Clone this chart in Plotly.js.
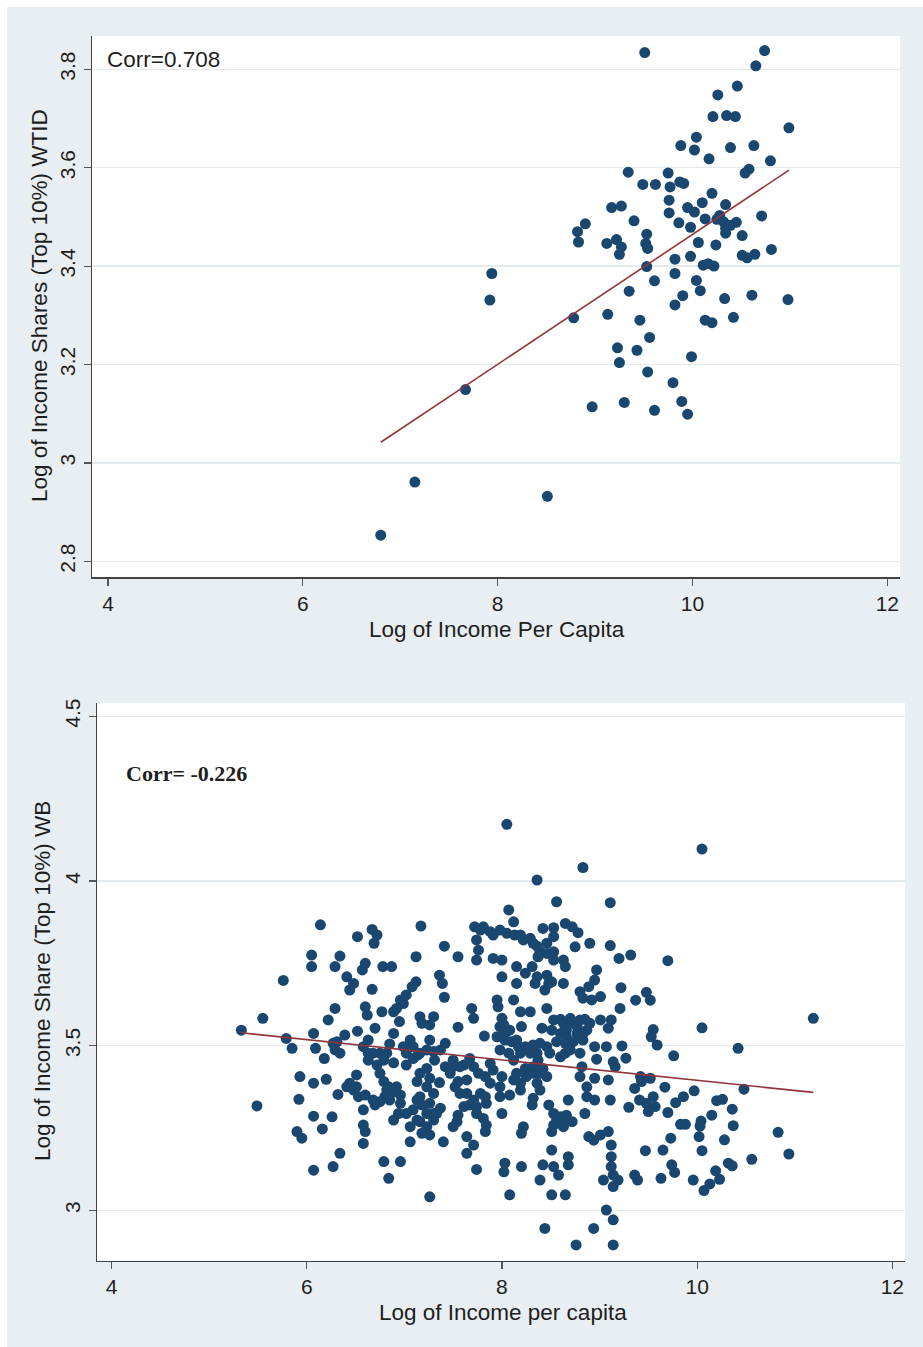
<!DOCTYPE html>
<html>
<head>
<meta charset="utf-8">
<script src="https://cdn.plot.ly/plotly-3.0.1.min.js"></script>
<style>
html,body{margin:0;padding:0;background:#ffffff;}
#chart{width:923px;height:1347px;}
</style>
</head>
<body>
<div id="chart"></div>
<script>
// ---------- Top panel: WTID ----------
const topX = [9.51,10.74,10.65,10.46,10.26,10.21,10.35,10.44,10.99,10.04,9.88,10.02,10.39,10.63,10.17,10.80,10.58,10.54,9.34,9.75,
9.49,9.62,9.77,9.87,10.20,9.76,9.17,9.27,10.10,10.34,9.95,10.02,9.76,10.71,10.13,10.25,10.32,9.40,9.86,10.45,
9.98,10.34,8.90,8.82,8.83,10.34,10.51,9.12,9.22,9.27,9.25,9.53,9.52,9.54,10.06,10.24,10.81,10.51,10.64,10.56,
9.82,9.98,10.11,10.22,9.53,9.82,9.61,10.04,9.35,10.08,7.94,7.92,9.90,10.33,10.61,10.98,9.82,8.78,9.13,9.46,
10.13,10.20,10.42,9.56,9.23,9.43,9.25,9.99,9.54,7.67,9.80,8.97,9.30,9.61,9.89,9.95,9.91,10.28,10.39,10.16,
7.15,8.51,6.80];
const topY = [3.834,3.838,3.807,3.766,3.748,3.704,3.706,3.704,3.681,3.662,3.645,3.636,3.641,3.645,3.618,3.614,3.597,3.589,3.591,3.589,
3.566,3.566,3.561,3.571,3.548,3.534,3.519,3.522,3.529,3.525,3.519,3.510,3.508,3.502,3.496,3.495,3.490,3.492,3.488,3.489,
3.479,3.477,3.486,3.470,3.449,3.467,3.462,3.446,3.454,3.439,3.424,3.465,3.446,3.436,3.448,3.443,3.434,3.422,3.424,3.417,
3.414,3.420,3.402,3.400,3.399,3.385,3.370,3.371,3.349,3.350,3.385,3.331,3.340,3.334,3.341,3.332,3.321,3.295,3.302,3.290,
3.290,3.285,3.296,3.255,3.234,3.229,3.204,3.216,3.185,3.149,3.163,3.114,3.123,3.107,3.125,3.099,3.568,3.503,3.483,3.405,
2.961,2.932,2.853];
const topFitX = [6.80, 10.99];
const topFitY = [3.042, 3.595];
const topXTicks = [4, 6, 8, 10, 12];
const topYTicks = [2.8, 3, 3.2, 3.4, 3.6, 3.8];
const topYTickText = ["2.8", "3", "3.2", "3.4", "3.6", "3.8"];

// ---------- Bottom panel: WB ----------
const botX = [8.05,8.83,8.36,8.56,9.11,8.07,8.12,6.14,7.17,7.72,7.81,6.67,6.72,6.69,6.52,8.42,8.53,8.65,8.72,8.78,
7.98,8.05,8.13,8.22,8.29,8.36,8.46,8.53,7.74,7.76,7.74,7.91,8.00,8.90,8.75,9.11,7.41,6.05,6.05,6.34,
6.29,7.12,7.55,8.37,8.53,8.63,8.65,6.60,6.57,6.78,6.87,8.15,8.31,8.24,8.36,8.46,8.51,8.97,8.95,8.89,
5.76,6.41,6.48,6.44,7.36,7.39,7.41,7.12,7.08,7.02,6.96,6.99,6.92,6.89,8.00,8.15,8.34,8.44,8.48,8.63,
6.67,8.80,8.83,8.92,9.01,7.95,7.96,8.12,6.29,6.22,6.60,6.62,6.77,7.69,7.71,8.19,8.29,8.46,8.53,7.16,
7.18,7.30,7.26,6.95,8.00,8.02,8.60,8.70,8.80,8.85,9.01,9.12,5.55,8.20,7.55,6.70,8.41,8.51,8.66,8.77,
8.87,5.33,6.07,6.52,6.39,6.89,7.82,7.95,8.03,8.10,8.17,8.24,8.32,8.39,8.46,8.56,8.65,8.73,8.83,8.95,
9.07,5.79,5.85,7.06,6.09,6.29,6.31,6.58,6.85,7.42,7.37,7.98,8.49,8.65,6.18,6.68,6.63,6.75,7.02,7.09,
7.14,7.23,7.30,7.67,8.12,8.37,8.97,6.89,7.02,6.72,7.42,7.47,7.23,7.16,7.61,7.71,7.76,7.88,7.91,8.24,
8.25,8.42,8.46,8.82,6.75,5.93,6.07,6.20,6.51,6.44,6.48,6.53,6.60,6.79,6.84,6.89,6.96,7.13,7.26,7.23,
7.36,7.55,7.52,7.64,7.83,7.88,8.00,7.98,8.12,8.19,8.36,8.39,8.80,8.87,8.95,9.09,6.32,5.92,6.80,6.75,
6.70,7.30,7.64,7.71,7.67,7.61,7.83,7.98,8.08,8.19,8.32,8.31,8.48,8.68,8.87,8.95,9.11,5.49,7.13,7.18,
7.09,7.02,7.37,7.30,6.58,6.94,7.55,7.74,7.81,7.84,8.00,8.53,8.60,8.66,8.72,8.63,8.53,8.85,6.07,6.26,
6.89,6.58,6.60,7.16,7.23,7.30,7.06,7.54,7.50,7.83,8.22,8.20,6.16,5.90,5.95,7.18,7.26,8.89,8.94,9.01,
9.09,8.51,7.06,7.40,7.64,7.71,7.64,6.58,9.12,8.51,6.34,6.79,6.96,6.27,6.07,7.74,8.03,8.02,8.20,8.42,
8.53,8.58,8.68,8.68,9.12,9.12,6.84,8.39,9.04,7.26,8.08,8.51,8.65,
10.05,9.70,9.32,9.22,9.37,9.48,9.52,9.21,11.19,10.05,9.55,9.53,9.20,9.09,
9.23,9.59,10.42,9.76,9.27,9.42,9.52,9.36,9.67,9.97,10.48,9.41,9.48,9.57,9.50,9.30,9.78,9.70,10.20,10.26,
10.15,10.36,9.83,9.88,10.04,10.03,10.37,10.83,9.73,10.02,10.28,9.47,9.65,10.05,10.56,10.94,9.74,9.77,10.32,10.36,
10.19,10.23,9.36,9.39,9.63,9.96,10.13,10.07,9.14,9.16,9.14,9.19,9.14,
9.07,9.14,8.44,8.94,8.76,9.14,
7.78,7.88,7.91,8.19,8.32,8.39,8.46,8.53,8.63,8.73,8.66,8.77,8.83,8.60,8.70,8.80,8.60,8.90,8.03,8.08,
7.98,8.15,8.19,8.07,8.29,8.36,7.09,7.16,6.99,7.26,7.31,6.41,6.51,6.82,6.92,6.68,6.85,6.96,7.16,7.26,
7.33,7.23,7.13,7.57,7.74,7.78,7.84,8.56,8.66,8.32,8.32,8.39,8.15,6.63,6.79,6.82,6.63,6.34,6.27,7.50,
7.57,7.50,9.43,9.55,9.86];
const botY = [4.172,4.041,4.003,3.937,3.934,3.912,3.876,3.867,3.863,3.861,3.861,3.853,3.836,3.811,3.831,3.856,3.858,3.871,3.861,3.843,
3.851,3.841,3.836,3.821,3.826,3.802,3.811,3.831,3.821,3.790,3.760,3.765,3.760,3.811,3.800,3.804,3.802,3.775,3.740,3.772,
3.740,3.770,3.770,3.770,3.785,3.760,3.740,3.750,3.730,3.740,3.740,3.740,3.740,3.720,3.709,3.714,3.694,3.730,3.699,3.679,
3.698,3.709,3.689,3.669,3.714,3.689,3.647,3.694,3.679,3.654,3.639,3.628,3.613,3.603,3.709,3.689,3.689,3.669,3.689,3.689,
3.671,3.664,3.644,3.639,3.649,3.639,3.618,3.639,3.613,3.578,3.618,3.593,3.603,3.613,3.583,3.603,3.603,3.613,3.578,3.588,
3.568,3.588,3.563,3.573,3.583,3.563,3.580,3.583,3.578,3.580,3.578,3.578,3.583,3.558,3.556,3.553,3.553,3.547,3.547,3.537,
3.547,3.547,3.537,3.544,3.532,3.537,3.529,3.527,3.517,3.512,3.497,3.497,3.502,3.507,3.497,3.512,3.507,3.512,3.517,3.497,
3.497,3.522,3.492,3.517,3.492,3.487,3.512,3.497,3.505,3.507,3.487,3.487,3.477,3.477,3.461,3.477,3.456,3.477,3.477,3.461,
3.472,3.487,3.482,3.461,3.456,3.456,3.459,3.448,3.441,3.441,3.436,3.416,3.431,3.416,3.441,3.436,3.416,3.446,3.426,3.431,
3.406,3.431,3.406,3.436,3.416,3.406,3.386,3.398,3.411,3.386,3.365,3.345,3.350,3.391,3.375,3.360,3.350,3.391,3.401,3.375,
3.388,3.391,3.375,3.396,3.406,3.386,3.406,3.375,3.396,3.386,3.386,3.365,3.406,3.375,3.401,3.396,3.352,3.337,3.345,3.330,
3.320,3.355,3.355,3.335,3.320,3.315,3.345,3.345,3.350,3.365,3.340,3.320,3.320,3.335,3.345,3.335,3.335,3.317,3.335,3.320,
3.305,3.294,3.310,3.294,3.305,3.294,3.289,3.294,3.279,3.259,3.294,3.294,3.284,3.289,3.269,3.254,3.259,3.294,3.286,3.284,
3.274,3.259,3.239,3.269,3.254,3.274,3.254,3.269,3.254,3.239,3.254,3.234,3.247,3.239,3.219,3.234,3.229,3.224,3.213,3.229,
3.239,3.239,3.208,3.208,3.224,3.198,3.173,3.203,3.198,3.183,3.173,3.148,3.148,3.133,3.122,3.124,3.143,3.117,3.133,3.138,
3.133,3.107,3.163,3.138,3.163,3.133,3.097,3.092,3.092,3.041,3.047,3.047,3.047,
4.097,3.758,3.775,3.676,3.638,3.662,3.638,3.613,3.583,3.554,3.549,3.527,3.765,3.553,
3.499,3.502,3.492,3.469,3.462,3.406,3.401,3.370,3.374,3.363,3.368,3.335,3.325,3.315,3.300,3.313,3.327,3.297,3.333,3.337,
3.289,3.307,3.261,3.261,3.271,3.256,3.257,3.237,3.219,3.224,3.214,3.181,3.183,3.181,3.155,3.171,3.138,3.115,3.143,3.135,
3.120,3.094,3.107,3.092,3.097,3.092,3.080,3.060,3.451,3.436,3.107,3.092,3.072,
3.001,2.971,2.945,2.945,2.895,2.895,
3.851,3.846,3.836,3.836,3.811,3.785,3.780,3.760,3.568,3.568,3.527,3.558,3.537,3.537,3.487,3.477,3.466,3.568,3.537,3.547,
3.558,3.517,3.477,3.477,3.477,3.477,3.497,3.477,3.497,3.517,3.456,3.375,3.375,3.365,3.375,3.335,3.335,3.325,3.345,3.325,
3.294,3.294,3.274,3.355,3.315,3.355,3.325,3.274,3.269,3.416,3.436,3.416,3.416,3.517,3.456,3.477,3.477,3.477,3.507,3.456,
3.436,3.436,3.391,3.345,3.345];
const botFitX = [5.33, 11.19];
const botFitY = [3.539, 3.358];
const botXTicks = [4, 6, 8, 10, 12];
const botYTicks = [3, 3.5, 4, 4.5];
const botYTickText = ["3", "3.5", "4", "4.5"];

// ---------- styles ----------
const W = 923, H = 1347;
const navy = '#1a476f';
const maroon = '#90353b';
const bg = '#e8eef1';
const txt = '#1e1e1e';
const tickFont = {family: 'Liberation Sans, Arial, sans-serif', size: 21, color: txt};
const titleFont = {family: 'Liberation Sans, Arial, sans-serif', size: 22.5, color: txt};
const px = v => v / W;
const py = v => 1 - v / H;

const traces = [
  {x: topX, y: topY, type: 'scatter', mode: 'markers', xaxis: 'x', yaxis: 'y',
   marker: {color: navy, size: 11, line: {width: 0}}, hoverinfo: 'skip'},
  {x: topFitX, y: topFitY, type: 'scatter', mode: 'lines', xaxis: 'x', yaxis: 'y',
   line: {color: maroon, width: 1.6}, hoverinfo: 'skip'},
  {x: botX, y: botY, type: 'scatter', mode: 'markers', xaxis: 'x2', yaxis: 'y2',
   marker: {color: navy, size: 11, line: {width: 0}}, hoverinfo: 'skip'},
  {x: botFitX, y: botFitY, type: 'scatter', mode: 'lines', xaxis: 'x2', yaxis: 'y2',
   line: {color: maroon, width: 1.6}, hoverinfo: 'skip'}
];

const xCommon = {
  showgrid: false, zeroline: false, showline: true, linecolor: '#444', linewidth: 1.3,
  ticks: 'outside', ticklen: 7, tickwidth: 1.2, tickcolor: '#555',
  tickfont: tickFont, automargin: false, fixedrange: true
};
const yCommon = {
  showgrid: true, gridcolor: '#e3ebee', gridwidth: 1.5, zeroline: false,
  showline: true, linecolor: '#444', linewidth: 1.3,
  ticks: 'outside', ticklen: 7, tickwidth: 1.2, tickcolor: '#555',
  tickfont: tickFont, tickangle: -90, automargin: false, fixedrange: true
};

const layout = {
  width: W, height: H,
  margin: {l: 0, r: 0, t: 0, b: 0, pad: 0},
  paper_bgcolor: bg, plot_bgcolor: '#ffffff',
  showlegend: false,
  xaxis: Object.assign({}, xCommon, {domain: [px(92), px(900)], range: [3.836, 12.13],
    tickmode: 'array', tickvals: topXTicks, ticktext: topXTicks.map(String), anchor: 'y'}),
  yaxis: Object.assign({}, yCommon, {domain: [py(577.3), py(36)], range: [2.7675, 3.8677],
    tickmode: 'array', tickvals: topYTicks, ticktext: topYTickText, anchor: 'x'}),
  xaxis2: Object.assign({}, xCommon, {domain: [px(97), px(905)], range: [3.851, 12.13],
    tickmode: 'array', tickvals: botXTicks, ticktext: botXTicks.map(String), anchor: 'y2'}),
  yaxis2: Object.assign({}, yCommon, {domain: [py(1260.7), py(703)], range: [2.847, 4.5405],
    tickmode: 'array', tickvals: botYTicks, ticktext: botYTickText, anchor: 'x2'}),
  shapes: [
    {type: 'rect', xref: 'paper', yref: 'paper', x0: 0, x1: 1, y0: py(7), y1: 1,
     fillcolor: '#ffffff', line: {width: 0}, layer: 'below'},
    {type: 'rect', xref: 'paper', yref: 'paper', x0: 0, x1: px(7), y0: 0, y1: 1,
     fillcolor: '#ffffff', line: {width: 0}, layer: 'below'}
  ],
  annotations: [
    {text: 'Log of Income Shares (Top 10%) WTID', xref: 'paper', yref: 'paper',
     x: px(40), y: py(306), textangle: -90, showarrow: false, font: titleFont,
     xanchor: 'center', yanchor: 'middle'},
    {text: 'Log of Income Per Capita', xref: 'paper', yref: 'paper',
     x: px(497), y: py(629), showarrow: false, font: titleFont, xanchor: 'center', yanchor: 'middle'},
    {text: 'Corr=0.708', xref: 'paper', yref: 'paper',
     x: px(105), y: py(60), showarrow: false, font: titleFont, xanchor: 'left', yanchor: 'middle'},
    {text: 'Log of Income Share (Top 10%) WB', xref: 'paper', yref: 'paper',
     x: px(42), y: py(981), textangle: -90, showarrow: false, font: titleFont,
     xanchor: 'center', yanchor: 'middle'},
    {text: 'Log of Income per capita', xref: 'paper', yref: 'paper',
     x: px(503), y: py(1312), showarrow: false, font: titleFont, xanchor: 'center', yanchor: 'middle'},
    {text: '<b>Corr= -0.226</b>', xref: 'paper', yref: 'paper',
     x: px(124), y: py(773), showarrow: false,
     font: {family: 'Liberation Serif, Times New Roman, serif', size: 22, color: txt},
     xanchor: 'left', yanchor: 'middle'}
  ]
};

Plotly.newPlot('chart', traces, layout, {displayModeBar: false, staticPlot: true});
</script>
</body>
</html>
